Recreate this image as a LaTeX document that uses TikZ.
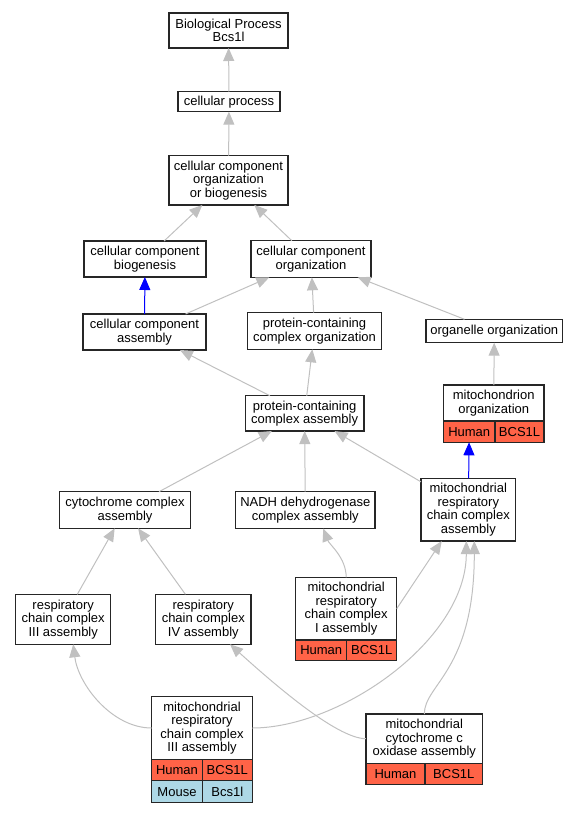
\documentclass[tikz,border=0pt]{standalone}
\usepackage{fontspec}
\setmainfont{Liberation Sans}
\usepackage{tikz}
\usetikzlibrary{arrows.meta,positioning}

\definecolor{edgegray}{RGB}{192,192,192}
\definecolor{humanred}{RGB}{255,99,71}
\definecolor{mouseblue}{RGB}{173,216,230}

\begin{document}
\begin{tikzpicture}[x=1pt,y=-1pt,
  term/.style={draw=black!85,line width=1.2pt,fill=white,align=center,
    inner sep=0pt,outer sep=0pt,font=\fontsize{13}{13.5}\selectfont},
  cell/.style={draw=black!85,line width=1.2pt,fill=humanred,inner sep=0pt,
    outer sep=0pt,minimum height=21.3pt,anchor=north west,
    font=\fontsize{13}{13.5}\selectfont},
  isa/.style={draw=edgegray,line width=1pt,-{Triangle[length=13pt,width=11pt]}},
  partof/.style={isa,draw=blue}]
  \useasboundingbox (0,0) rectangle (579,813);

  % GO terms
  \node[term,minimum width=119pt,minimum height=35pt] (bp) at (228.5,30.5) {Biological Process\\Bcs1l};
  \node[term,minimum width=102pt,minimum height=20pt] (cp) at (229,101.7) {cellular process};
  \node[term,minimum width=119pt,minimum height=49.3pt] (ccob) at (228.5,180.3) {cellular component\\organization\\or biogenesis};
  \node[term,minimum width=122pt,minimum height=36pt] (ccb) at (145,259) {cellular component\\biogenesis};
  \node[term,minimum width=120pt,minimum height=36.6pt] (cco) at (311,259) {cellular component\\organization};
  \node[term,minimum width=123pt,minimum height=36pt] (cca) at (144.5,332) {cellular component\\assembly};
  \node[term,minimum width=134.4pt,minimum height=36.6pt] (pcco) at (314.5,331) {protein-containing\\complex organization};
  \node[term,minimum width=136.7pt,minimum height=23.4pt] (oo) at (494.3,331) {organelle organization};
  \node[term,minimum width=100.7pt,minimum height=36pt] (mo) at (493.7,403) {mitochondrion\\organization};
  \node[term,minimum width=118.7pt,minimum height=35.3pt] (pcca) at (304.6,413.4) {protein-containing\\complex assembly};
  \node[term,minimum width=131.4pt,minimum height=36.6pt] (cyca) at (125,510) {cytochrome complex\\assembly};
  \node[term,minimum width=139.3pt,minimum height=37pt] (nadh) at (305.3,510) {NADH dehydrogenase\\complex assembly};
  \node[term,minimum width=94.7pt,minimum height=62.7pt] (mrcca) at (468.3,509.7) {mitochondrial\\respiratory\\chain complex\\assembly};
  \node[term,minimum width=95pt,minimum height=50pt] (rc3) at (63.2,619.3) {respiratory\\chain complex\\III assembly};
  \node[term,minimum width=95.3pt,minimum height=50pt] (rc4) at (203.3,619.3) {respiratory\\chain complex\\IV assembly};
  \node[term,minimum width=101pt,minimum height=62.5pt] (mrcc1) at (346.2,608.7) {mitochondrial\\respiratory\\chain complex\\I assembly};
  \node[term,minimum width=100.6pt,minimum height=62.6pt] (mrcc3) at (202,728) {mitochondrial\\respiratory\\chain complex\\III assembly};
  \node[term,minimum width=116.7pt,minimum height=49.3pt] (mcco) at (424.3,738.7) {mitochondrial\\cytochrome c\\oxidase assembly};

  % gene rows
  \node[cell,minimum width=51.7pt] (moH) at (mo.south west) {Human};
  \node[cell,minimum width=49pt] (moG) at (moH.north east) {BCS1L};
  \node[cell,minimum width=51pt,minimum height=20.7pt] (mrcc1H) at (mrcc1.south west) {Human};
  \node[cell,minimum width=50pt,minimum height=20.7pt] (mrcc1G) at (mrcc1H.north east) {BCS1L};
  \node[cell,minimum width=50.6pt] (mrcc3H) at (mrcc3.south west) {Human};
  \node[cell,minimum width=50pt] (mrcc3G) at (mrcc3H.north east) {BCS1L};
  \node[cell,fill=mouseblue,minimum width=50.6pt,minimum height=22pt] (mrcc3M) at (mrcc3H.south west) {Mouse};
  \node[cell,fill=mouseblue,minimum width=50pt,minimum height=22pt] (mrcc3g) at (mrcc3M.north east) {Bcs1l};
  \node[cell,minimum width=59pt] (mccoH) at (mcco.south west) {Human};
  \node[cell,minimum width=57.7pt] (mccoG) at (mccoH.north east) {BCS1L};

  % is_a / part_of edges
  \draw[isa] (cp) -- (bp);
  \draw[isa] (ccob) -- (cp);
  \draw[isa] (ccb) -- (ccob);
  \draw[isa] (cco) -- (ccob);
  \draw[partof] (cca) -- (ccb);
  \draw[isa] (cca) -- (cco);
  \draw[isa] (pcco) -- (cco);
  \draw[isa] (oo) -- (cco);
  \draw[isa] (mo) -- (oo);
  \draw[isa] (pcca) -- (cca);
  \draw[isa] (pcca) -- (pcco);
  \draw[isa] (cyca) -- (pcca);
  \draw[isa] (nadh) -- (pcca);
  \draw[isa] (mrcca) -- (pcca);
  \draw[partof] (mrcca) -- (moH);
  \draw[isa] (rc3) -- (cyca);
  \draw[isa] (rc4) -- (cyca);
  \draw[isa] (mrcc1.north) .. controls +(0,-20) and +(6,16) .. ([xshift=18pt]nadh.south);
  \draw[isa] (mrcc1.east) -- ([xshift=-26.6pt]mrcca.south);
  \draw[isa] (mrcc3.west) .. controls +(-40,0) and +(5,40) .. ([xshift=10pt]rc3.south);
  \draw[isa] (mrcc3.east) .. controls +(88,0) and +(0,99) .. ([xshift=-2pt]mrcca.south);
  \draw[isa] (mcco.west) .. controls +(-30,0) and +(40,36) .. ([xshift=26.7pt]rc4.south);
  \draw[isa] (mcco.north) .. controls +(0,-30) and +(0,130) .. ([xshift=6pt]mrcca.south);
\end{tikzpicture}
\end{document}
